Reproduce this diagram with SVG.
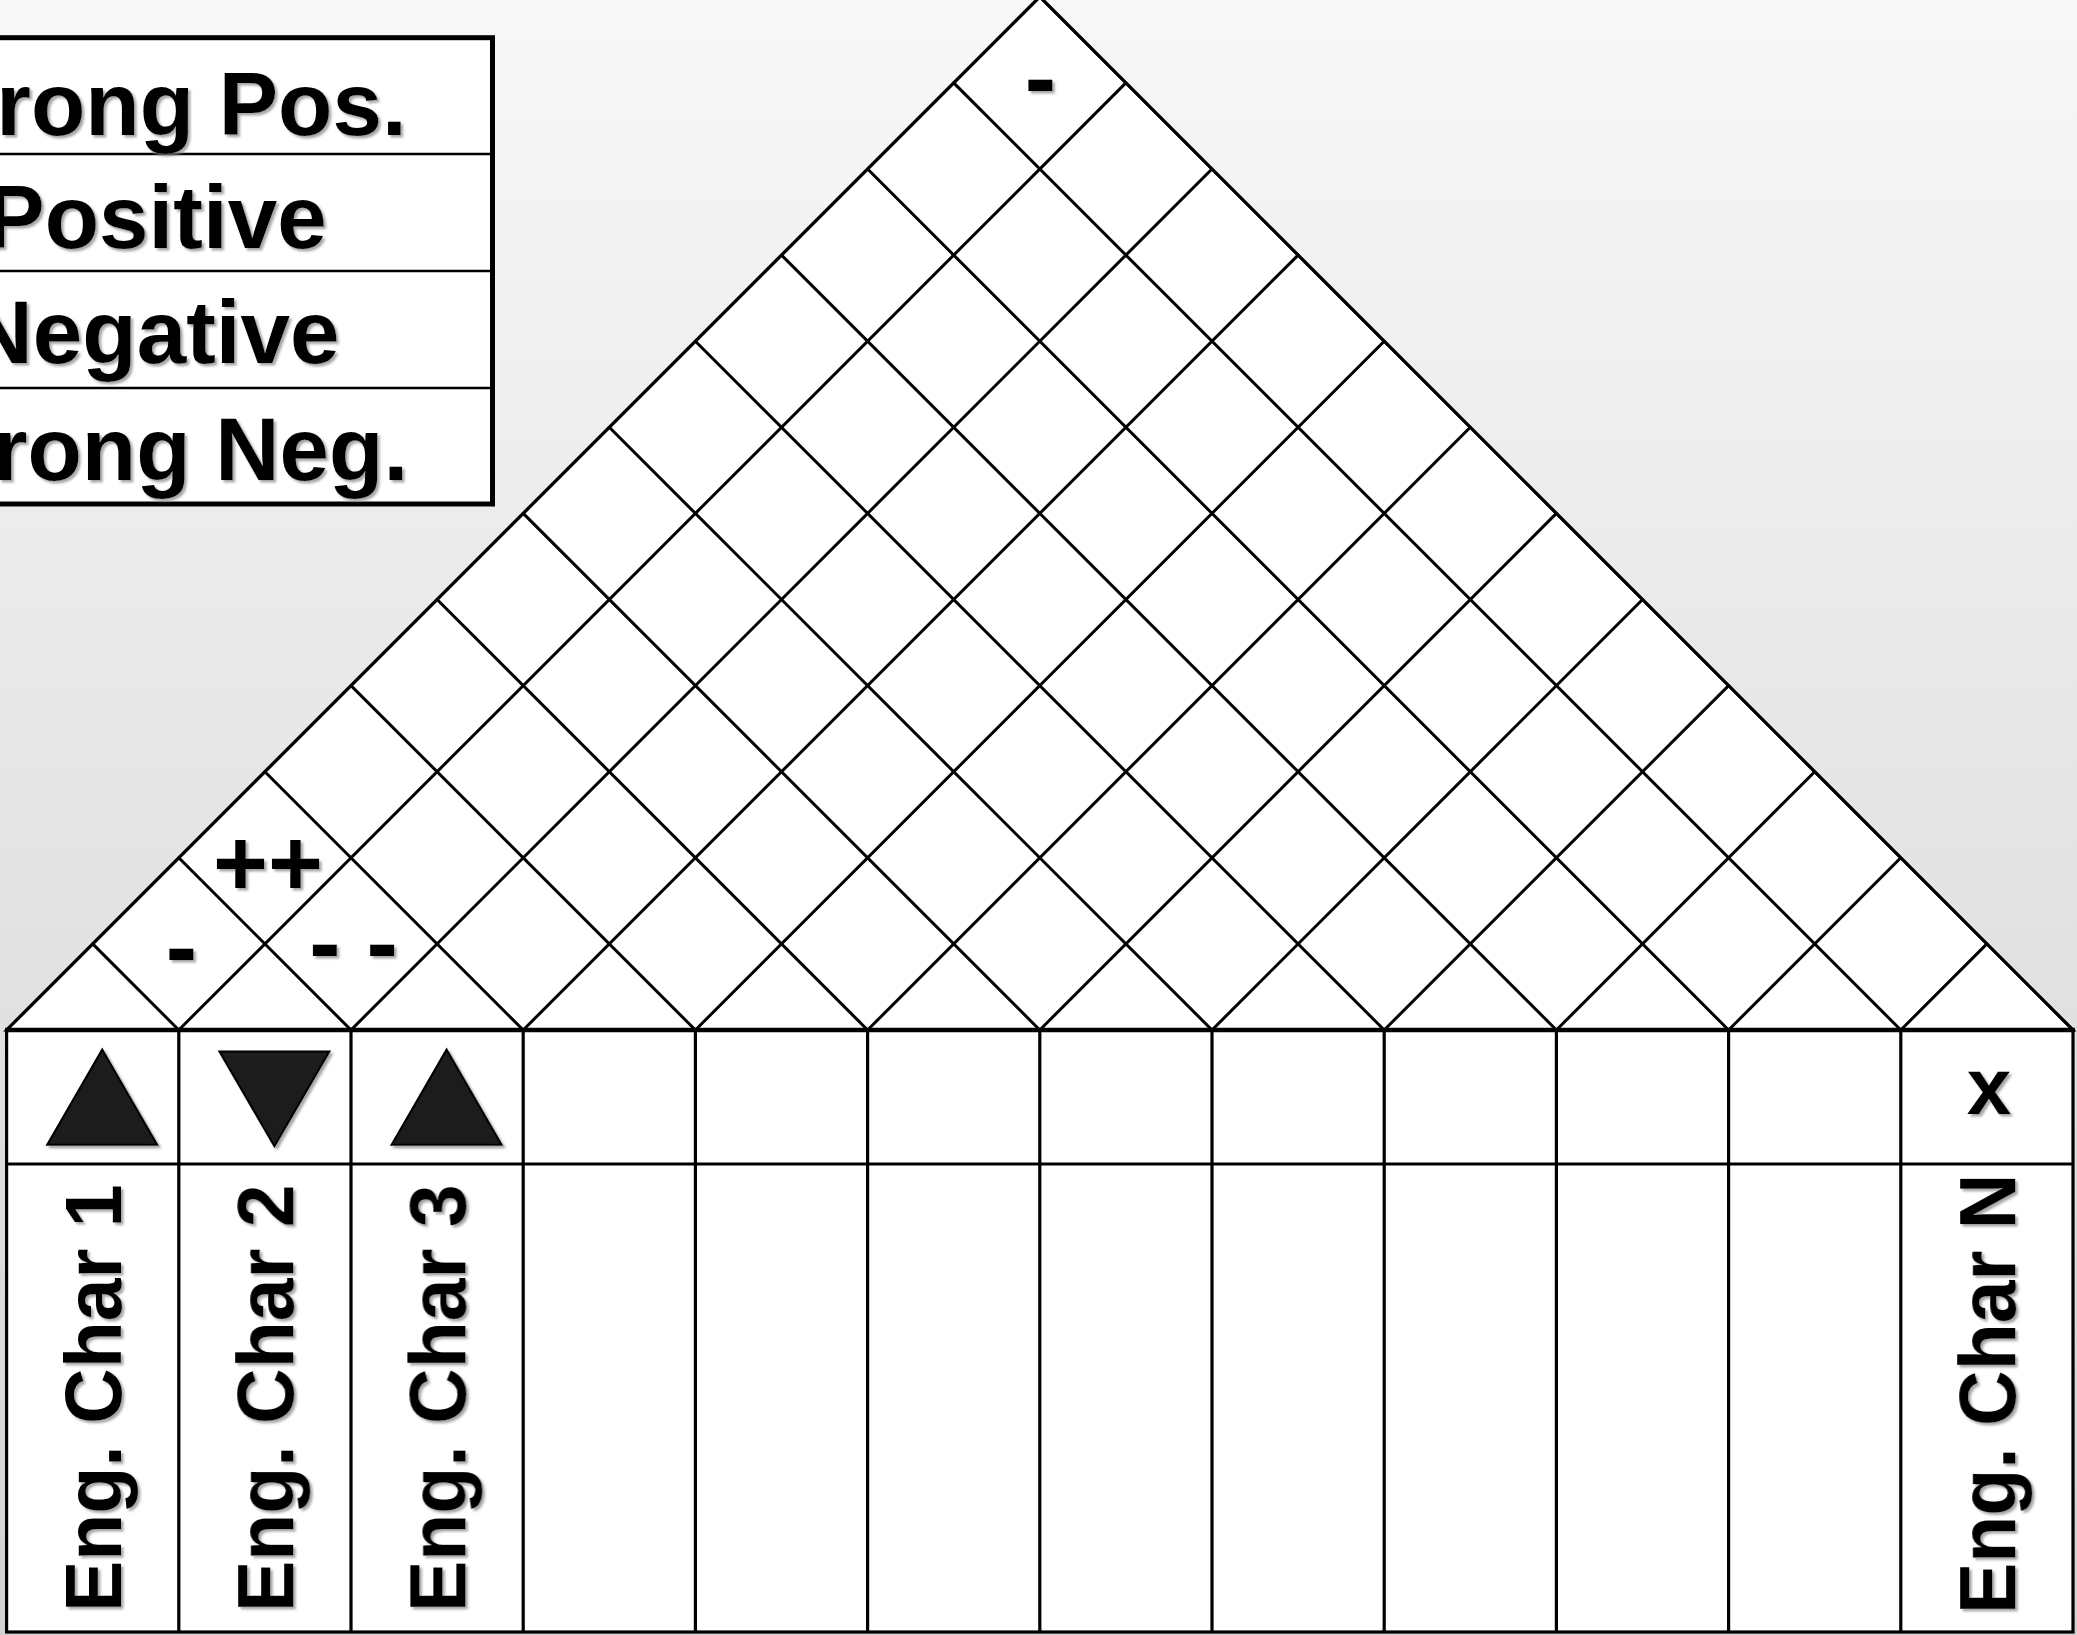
<svg xmlns="http://www.w3.org/2000/svg" width="2077" height="1635" viewBox="0 0 2077 1635">
<defs>
<linearGradient id="bg" x1="0" y1="0" x2="0" y2="1">
<stop offset="0" stop-color="#f8f8f8"/>
<stop offset="1" stop-color="#d2d2d2"/>
</linearGradient>
<filter id="sh" x="-10%" y="-10%" width="130%" height="130%">
<feDropShadow dx="2.5" dy="2.5" stdDeviation="1.2" flood-color="#808080" flood-opacity="0.7"/>
</filter>
</defs>
<style>
.t{font-family:"Liberation Sans",Arial,sans-serif;font-weight:bold;fill:#000}
.leg{font-size:89px}
.sym{font-size:94px}
.lab{font-size:80px}
.xm{font-size:80px}
.lat{stroke:#000;stroke-width:3;fill:none;stroke-linecap:round}
.cell{stroke:#000;stroke-width:3.2;fill:none}
.tri{fill:#1a1a1a;stroke:#000;stroke-width:2;stroke-linejoin:miter}
</style>
<rect x="0" y="0" width="2077" height="1635" fill="url(#bg)"/>

<g id="legend">
<rect x="-10" y="37.7" width="502.5" height="466.3" fill="#fff" stroke="#000" stroke-width="5"/>
<line x1="-10" y1="154" x2="490" y2="154" stroke="#000" stroke-width="2.5"/>
<line x1="-10" y1="271" x2="490" y2="271" stroke="#000" stroke-width="2.5"/>
<line x1="-10" y1="388" x2="490" y2="388" stroke="#000" stroke-width="2.5"/>
<g filter="url(#sh)">
<text class="t leg" x="157" y="135" text-anchor="middle">Strong Pos.</text>
<text class="t leg" x="156" y="248" text-anchor="middle">Positive</text>
<text class="t leg" x="154" y="363" text-anchor="middle">Negative</text>
<text class="t leg" x="156" y="480" text-anchor="middle">Strong Neg.</text>
</g>
</g>

<g id="roof">
<polygon points="6.6,1030 1039.8,-3.2 2073,1030" fill="#fff" stroke="#000" stroke-width="3"/>
</g>

<g id="connectors" class="lat">
<path d="M6.6,1030L1039.8,-3.2M178.8,1030L1125.9,82.9M351,1030L1212,169M523.2,1030L1298.1,255.1M695.4,1030L1384.2,341.2M867.6,1030L1470.3,427.3M1039.8,1030L1556.4,513.4M1212,1030L1642.5,599.5M1384.2,1030L1728.6,685.6M1556.4,1030L1814.7,771.7M1728.6,1030L1900.8,857.8M1900.8,1030L1986.9,943.9"/>
<path d="M178.8,1030L92.7,943.9M351,1030L178.8,857.8M523.2,1030L264.9,771.7M695.4,1030L351,685.6M867.6,1030L437.1,599.5M1039.8,1030L523.2,513.4M1212,1030L609.3,427.3M1384.2,1030L695.4,341.2M1556.4,1030L781.5,255.1M1728.6,1030L867.6,169M1900.8,1030L953.7,82.9M2073,1030L1039.8,-3.2"/>
</g>

<g id="roof-marks" filter="url(#sh)">
<text class="t sym" x="1040.5" y="110" text-anchor="middle">-</text>
<text class="t sym" x="181.5" y="979" text-anchor="middle">-</text>
<text class="t sym" x="268" y="895" text-anchor="middle">++</text>
<text class="t sym" x="353.5" y="974.5" text-anchor="middle">- -</text>
</g>

<g id="table">
<rect x="6.6" y="1030" width="2066.4" height="602" fill="#fff" stroke="#000" stroke-width="3.2"/>
<line x1="5" y1="1030" x2="2075" y2="1030" stroke="#000" stroke-width="4.5"/>
<line x1="6.6" y1="1164" x2="2073" y2="1164" stroke="#000" stroke-width="3.2"/>
<path class="cell" d="M178.8,1030V1632M351,1030V1632M523.2,1030V1632M695.4,1030V1632M867.6,1030V1632M1039.8,1030V1632M1212,1030V1632M1384.2,1030V1632M1556.4,1030V1632M1728.6,1030V1632M1900.8,1030V1632"/>
</g>

<g id="direction-row" filter="url(#sh)">
<polygon class="tri" points="102.2,1049.5 47.2,1144.7 157.2,1144.7"/>
<polygon class="tri" points="219.4,1051.4 329.4,1051.4 274.4,1146.3"/>
<polygon class="tri" points="446.6,1049.5 391.6,1144.7 501.6,1144.7"/>
<text class="t xm" x="1989" y="1114" text-anchor="middle">x</text>
</g>

<g id="char-labels" filter="url(#sh)">
<text class="t lab" transform="translate(121,1612) rotate(-90) scale(0.962,1)">Eng. Char 1</text>
<text class="t lab" transform="translate(293.2,1612) rotate(-90) scale(0.962,1)">Eng. Char 2</text>
<text class="t lab" transform="translate(465.4,1612) rotate(-90) scale(0.962,1)">Eng. Char 3</text>
<text class="t lab" transform="translate(2015.2,1614) rotate(-90) scale(0.962,1)">Eng. Char N</text>
</g>
</svg>
